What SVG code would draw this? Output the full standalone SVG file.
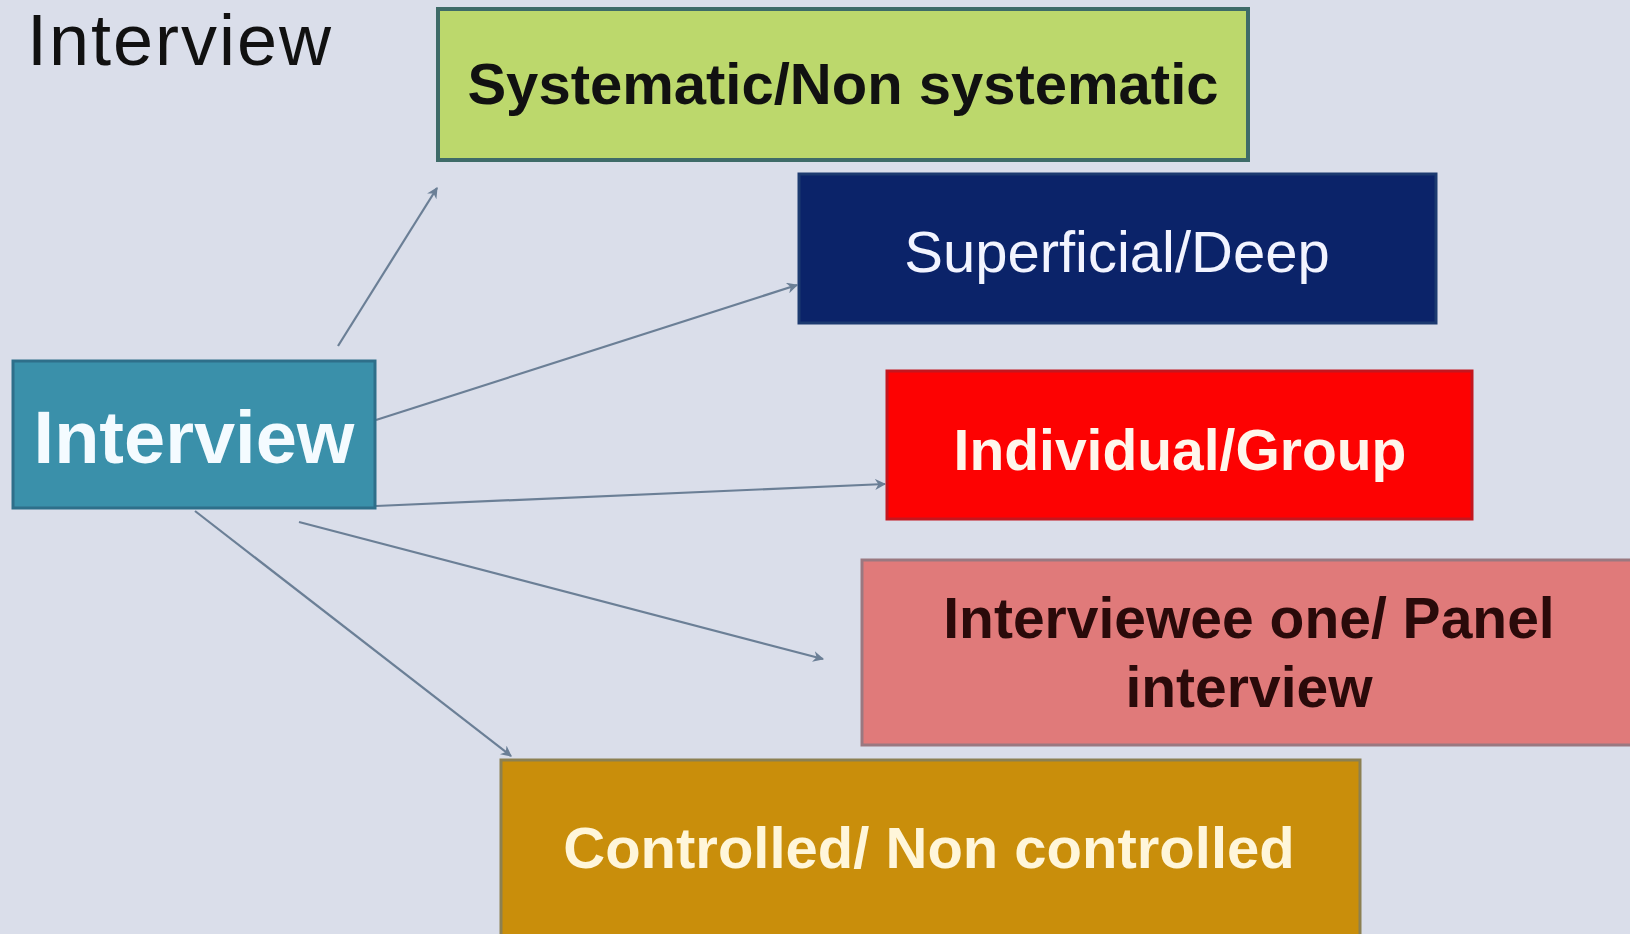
<svg xmlns="http://www.w3.org/2000/svg" width="1630" height="934" viewBox="0 0 1630 934">
<style>
.b{font-family:"Liberation Sans",Arial,sans-serif;font-weight:bold;text-anchor:middle}
.r{font-family:"Liberation Sans",Arial,sans-serif;text-anchor:middle}
.c{fill:none;stroke:#6b7f96;stroke-width:2.2;marker-end:url(#ah)}
</style>
<defs>
<marker id="ah" viewBox="0 0 10 10" refX="9" refY="5" markerWidth="5" markerHeight="5" orient="auto" markerUnits="strokeWidth">
<path d="M0,0 L10,5 L0,10 L3,5 z" fill="#6b7f96"/>
</marker>
</defs>
<rect width="1630" height="934" fill="#dadeea"/>
<text x="27" y="65" font-family="Liberation Sans, Arial, sans-serif" font-size="72" textLength="304" fill="#111">Interview</text>
<g id="connectors">
<line class="c" x1="338" y1="346" x2="437" y2="188"/>
<line class="c" x1="376" y1="420" x2="797" y2="285"/>
<line class="c" x1="376" y1="506" x2="885" y2="484"/>
<line class="c" x1="299" y1="522" x2="823" y2="659"/>
<line class="c" x1="195" y1="511" x2="511" y2="756"/>
</g>
<g id="n-interview">
<rect x="13" y="361" width="362" height="147" fill="#3a90aa" stroke="#2e6f8a" stroke-width="3"/>
<text class="b" x="194" y="463" font-size="74" fill="#f4fbff">Interview</text>
</g>
<g id="n-systematic">
<rect x="438" y="9" width="810" height="151" fill="#bcd86c" stroke="#3e6b68" stroke-width="4"/>
<text class="b" x="843" y="104" font-size="58" fill="#111">Systematic/Non systematic</text>
</g>
<g id="n-superficial">
<rect x="799" y="174" width="637" height="149" fill="#0b2369" stroke="#1c3a70" stroke-width="3"/>
<text class="r" x="1117" y="272" font-size="58" fill="#f2f4ff">Superficial/Deep</text>
</g>
<g id="n-individual">
<rect x="887" y="371" width="585" height="148" fill="#fd0202" stroke="#c4161e" stroke-width="3"/>
<text class="b" x="1180" y="470" font-size="57" fill="#fff6ec">Individual/Group</text>
</g>
<g id="n-interviewee">
<rect x="862" y="560" width="772" height="185" fill="#e07a7a" stroke="#9a7880" stroke-width="3"/>
<text class="b" x="1249" y="638" font-size="57" fill="#2a0a0a">Interviewee one/ Panel</text>
<text class="b" x="1249" y="707" font-size="57" fill="#2a0a0a">interview</text>
</g>
<g id="n-controlled">
<rect x="501" y="760" width="859" height="180" fill="#c98e0b" stroke="#8c8052" stroke-width="3"/>
<text class="b" x="929" y="868" font-size="58" fill="#fff6da">Controlled/ Non controlled</text>
</g>
</svg>
